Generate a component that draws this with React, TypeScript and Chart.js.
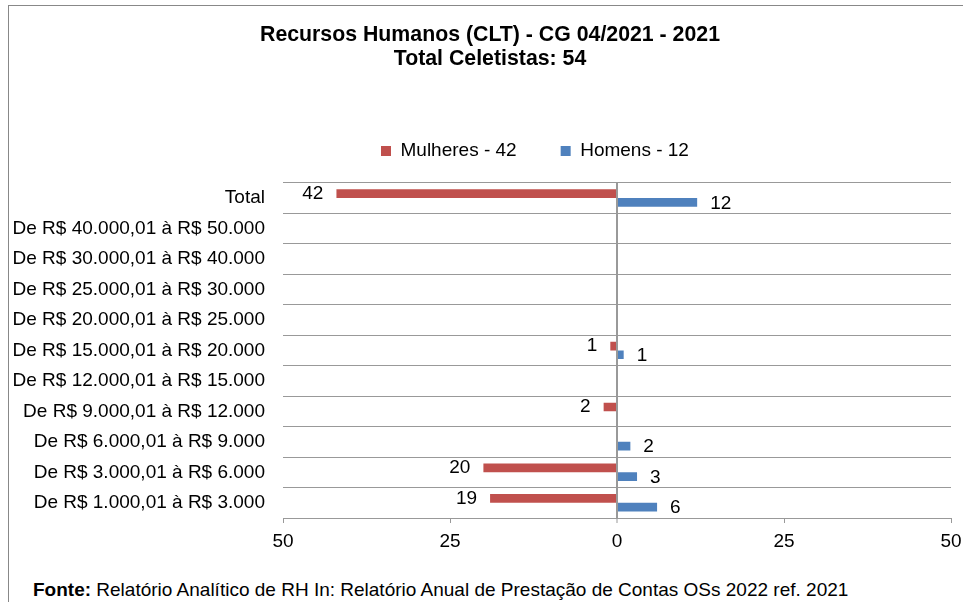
import React, { useEffect, useRef } from "react";
import { Chart, registerables } from "chart.js";

Chart.register(...registerables);

const FONT = "'Liberation Sans', Arial, Helvetica, sans-serif";
Chart.defaults.font.family = FONT;
Chart.defaults.color = "#000";

const titleLines = ["Recursos Humanos (CLT) - CG 04/2021 - 2021", "Total Celetistas: 54"];
const categories = [
  "Total",
  "De R$ 40.000,01 à R$ 50.000",
  "De R$ 30.000,01 à R$ 40.000",
  "De R$ 25.000,01 à R$ 30.000",
  "De R$ 20.000,01 à R$ 25.000",
  "De R$ 15.000,01 à R$ 20.000",
  "De R$ 12.000,01 à R$ 15.000",
  "De R$ 9.000,01 à R$ 12.000",
  "De R$ 6.000,01 à R$ 9.000",
  "De R$ 3.000,01 à R$ 6.000",
  "De R$ 1.000,01 à R$ 3.000",
];
const mulheres = [42, 0, 0, 0, 0, 1, 0, 2, 0, 20, 19];
const homens = [12, 0, 0, 0, 0, 1, 0, 0, 2, 3, 6];
const seriesLabels = ["Mulheres - 42", "Homens - 12"];
const xMin = -50;
const xMax = 50;
const xStep = 25;

const RED = "#C0504D";
const BLUE = "#4F81BD";
const GRID = "#999999";

export default function App() {
  const ref = useRef<HTMLCanvasElement | null>(null);

  useEffect(() => {
    if (!ref.current) return;
    const ctx = ref.current.getContext("2d");
    if (!ctx) return;

    const layoutPlugin = {
      id: "placeBlocks",
      afterLayout(chart: any) {
        const lg = chart.legend;
        if (lg && lg.lineWidths) {
          const pad = lg.options.labels.padding;
          const x0 = (lg.left + pad + lg.right - lg.lineWidths[0]) / 2;
          const dx = 372 - x0;
          lg.left += dx;
          lg.right += dx;
          const fontSize = 19;
          const center = lg.top + pad + fontSize / 2;
          const dy = 145 - center;
          lg.top += dy;
          lg.bottom += dy;
        }
        const tb = chart.titleBlock;
        if (tb) {
          const dx = 481 - (tb.left + tb.right) / 2;
          tb.left += dx;
          tb.right += dx;
        }
      },
    };

    const labelPlugin = {
      id: "barValueLabels",
      afterDatasetsDraw(chart: any) {
        const c = chart.ctx;
        c.save();
        c.font = `19px ${FONT}`;
        c.fillStyle = "#000";
        c.textBaseline = "middle";
        const sets = [mulheres, homens];
        sets.forEach((vals, di) => {
          const meta = chart.getDatasetMeta(di);
          meta.data.forEach((bar: any, i: number) => {
            const v = vals[i];
            if (!v) return;
            if (di === 0) {
              c.textAlign = "right";
              c.fillText(String(v), bar.x - 13, bar.y);
            } else {
              c.textAlign = "left";
              c.fillText(String(v), bar.x + 13, bar.y + 1);
            }
          });
        });
        c.restore();
      },
    };

    const chart = new Chart(ctx, {
      type: "bar",
      data: {
        labels: categories,
        datasets: [
          {
            label: seriesLabels[0],
            data: mulheres.map((v) => -v),
            backgroundColor: RED,
            borderWidth: 0,
            categoryPercentage: 0.57,
            barPercentage: 1,
          },
          {
            label: seriesLabels[1],
            data: homens,
            backgroundColor: BLUE,
            borderWidth: 0,
            categoryPercentage: 0.57,
            barPercentage: 1,
          },
        ],
      },
      options: {
        indexAxis: "y",
        responsive: false,
        animation: false,
        events: [],
        layout: { padding: { left: 0, right: 0, top: 0, bottom: 0 } },
        scales: {
          x: {
            type: "linear",
            min: xMin,
            max: xMax,
            afterFit: (s: any) => {
              s.height = 40;
              s.paddingLeft = 0;
              s.paddingRight = 12;
            },
            ticks: {
              stepSize: xStep,
              padding: 7,
              color: "#000",
              font: { size: 19, family: FONT },
              callback: (v: any) => String(Math.abs(Number(v))),
            },
            grid: {
              color: (c: any) => (c.tick && c.tick.value === 0 ? GRID : "rgba(0,0,0,0)"),
              lineWidth: (c: any) => (c.tick && c.tick.value === 0 ? 2 : 1),
              tickColor: GRID,
              tickWidth: 1,
              tickLength: 5,
              drawTicks: true,
            },
            border: { display: true, color: GRID, width: 1 },
          },
          y: {
            type: "category",
            afterFit: (s: any) => {
              s.width = 274;
            },
            ticks: {
              padding: 18,
              color: "#000",
              font: { size: 19, family: FONT },
              autoSkip: false,
            },
            grid: {
              color: GRID,
              lineWidth: 1,
              drawTicks: false,
              offset: true,
            },
            border: { display: false },
          },
        },
        plugins: {
          title: {
            display: true,
            text: titleLines,
            color: "#000",
            font: { size: 21.3, weight: "bold", family: FONT, lineHeight: 1.145 },
            padding: { top: 17, bottom: 38 },
          },
          legend: {
            display: true,
            position: "top",
            labels: {
              boxWidth: 10,
              boxHeight: 10,
              padding: 44,
              color: "#000",
              font: { size: 19, family: FONT },
            },
          },
          tooltip: { enabled: false },
        },
      },
      plugins: [layoutPlugin, labelPlugin],
    } as any);

    return () => chart.destroy();
  }, []);

  return (
    <div style={{ position: "fixed", left: 0, top: 0, width: 967, height: 602, overflow: "hidden", background: "#fff" }}>
      <div
        style={{
          position: "absolute",
          left: 8,
          top: 5,
          width: 955,
          height: 597,
          borderLeft: "1px solid #888",
          borderTop: "1px solid #888",
          boxSizing: "border-box",
        }}
      />
      <canvas
        ref={ref}
        width={954}
        height={552}
        style={{ position: "absolute", left: 9, top: 6, width: 954, height: 552 }}
      />
      <div
        style={{
          position: "absolute",
          left: 33,
          top: 579,
          fontFamily: FONT,
          fontSize: 19,
          lineHeight: "22px",
          color: "#000",
          whiteSpace: "nowrap",
        }}
      >
        <b>Fonte:</b> Relatório Analítico de RH In: Relatório Anual de Prestação de Contas OSs 2022 ref. 2021
      </div>
    </div>
  );
}
